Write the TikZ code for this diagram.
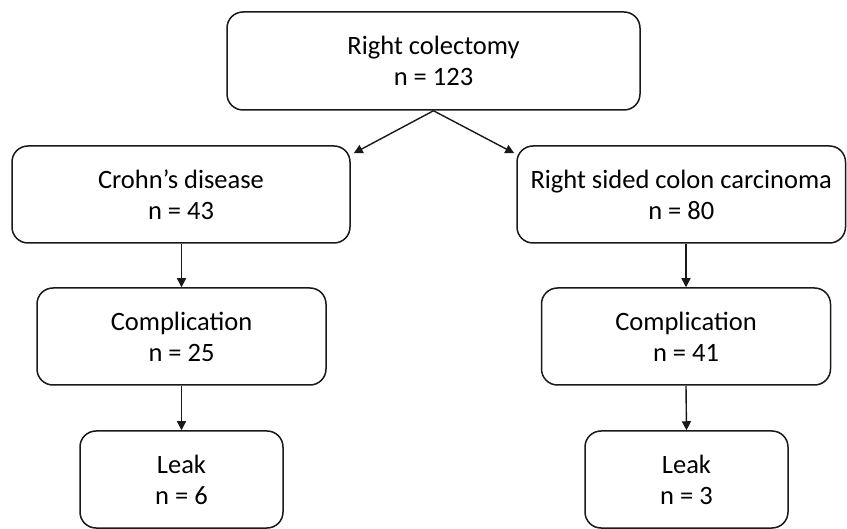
\documentclass[tikz,border=0pt]{standalone}
\usepackage{fontspec}
\setmainfont{Carlito}
\usepackage{tikz}
\usetikzlibrary{arrows.meta,calc}

\begin{document}
\begin{tikzpicture}[x=1pt,y=-1pt,
  box/.style={draw=black!90, line width=1.5pt, rounded corners=16pt, align=center, inner sep=0pt, font=\fontsize{26.5}{31}\selectfont},
  arr/.style={draw=black!90, line width=1.4pt, -{Triangle[length=9pt,width=9pt]}}]
\useasboundingbox (0,0) rectangle (847,529);

\node[box, minimum width=413, minimum height=98] (colectomy) at (433.5,61) {Right colectomy\\n = 123};

\node[box, minimum width=338, minimum height=97] (crohn) at (181,194.5) {Crohn’s disease\\n = 43};
\node[box, minimum width=328.5, minimum height=97] (carcinoma) at (681.25,194.5) {Right sided colon carcinoma\\n = 80};

\node[box, minimum width=289, minimum height=97] (comp1) at (181.5,336.5) {Complication\\n = 25};
\node[box, minimum width=289, minimum height=97] (comp2) at (686,336.5) {Complication\\n = 41};

\node[box, minimum width=203, minimum height=97] (leak1) at (181.5,479.5) {Leak\\n = 6};
\node[box, minimum width=203, minimum height=97] (leak2) at (686.5,479.5) {Leak\\n = 3};

\draw[arr] (colectomy.south) -- ($(crohn.north east)+(3pt,-8pt)$);
\draw[arr] (colectomy.south) -- ($(carcinoma.north west)+(-2pt,-8pt)$);
\draw[arr] (crohn.south -| comp1.north) -- (comp1.north);
\draw[arr] (carcinoma.south -| comp2.north) -- (comp2.north);
\draw[arr] (comp1.south) -- (leak1.north);
\draw[arr] (comp2.south) -- (leak2.north);
\end{tikzpicture}
\end{document}
